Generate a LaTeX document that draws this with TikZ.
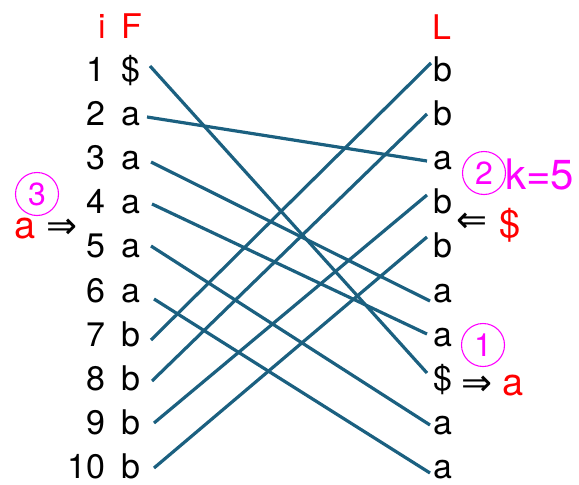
\documentclass[tikz,border=0pt]{standalone}
\usepackage{fontspec}
\setmainfont{TeX Gyre Heros}
\newfontfamily\symfont{DejaVu Sans}
\definecolor{linkcol}{RGB}{27,96,128}
\definecolor{annred}{RGB}{255,0,0}
\definecolor{annmag}{RGB}{255,0,255}
\begin{document}
\begin{tikzpicture}[x=1pt,y=-1pt,
  txt/.style={inner sep=0pt,font=\fontsize{34}{40}\selectfont},
  num/.style={txt,anchor=base east},
  lett/.style={txt,anchor=base west},
  hdr/.style={txt,text=annred},
  ann/.style={inner sep=0pt,font=\fontsize{38}{44}\selectfont},
  arr/.style={inner sep=0pt,font=\symfont\fontsize{37}{42}\selectfont},
  circnum/.style={circle,draw=annmag,line width=1.1pt,minimum size=43pt,inner sep=0pt,text=annmag,font=\fontsize{32}{34}\selectfont},
  link/.style={draw=linkcol,line width=3.2pt}]
\useasboundingbox (0,0) rectangle (579,485);
% headers
\node[hdr,anchor=base] (hi) at (102,38) {i};
\node[hdr,anchor=base west] (hF) at (121,38) {F};
\node[hdr,anchor=base west] (hL) at (432,39) {L};
% rows
\foreach \i/\f/\l [evaluate=\i as \yy using 81+(\i-1)*44.2] in
  {1/\$/b,2/a/b,3/a/a,4/a/b,5/a/b,6/a/a,7/b/a,8/b/\$,9/b/a,10/b/a}{
  \node[num] (n\i) at (106,\yy) {\i};
  \node[lett] (F\i) at (121,\yy) {\f};
  \node[lett] (L\i) at (433,\yy) {\l};
}
% connector end points
\coordinate (f1) at (150,66);
\coordinate (f2) at (147,117);
\coordinate (f3) at (151,162);
\coordinate (f4) at (152,204);
\coordinate (f5) at (151,246);
\coordinate (f6) at (154,299);
\coordinate (f7) at (151,340);
\coordinate (f8) at (152,381);
\coordinate (f9) at (154,423);
\coordinate (f10) at (154,468);
\coordinate (l1) at (431,63);
\coordinate (l2) at (427,114);
\coordinate (l3) at (427,161);
\coordinate (l4) at (427,195);
\coordinate (l5) at (427,237);
\coordinate (l6) at (430,301);
\coordinate (l7) at (427,334);
\coordinate (l8) at (427,373);
\coordinate (l9) at (430,425);
\coordinate (l10) at (430,473);
\draw[link] (f1) -- (l8);
\draw[link] (f2) -- (l3);
\draw[link] (f3) -- (l6);
\draw[link] (f4) -- (l7);
\draw[link] (f5) -- (l9);
\draw[link] (f6) -- (l10);
\draw[link] (f7) -- (l1);
\draw[link] (f8) -- (l2);
\draw[link] (f9) -- (l4);
\draw[link] (f10) -- (l5);
% annotation 3 (left)
\node[circnum] (c3) at (37,194) {3};
\node[ann,text=annred,anchor=base west] (a3) at (14,238) {a};
\node[arr,anchor=west] (r3) at (46,229) {⇒};
% annotation 2
\node[circnum] (c2) at (484,173) {2};
\node[ann,text=annmag,anchor=base west,font=\fontsize{42}{46}\selectfont] (k2) at (505,189) {k=5};
\node[arr,anchor=west] (r2) at (456,223) {⇐};
\node[ann,text=annred,anchor=base west] (d2) at (499,237) {\$};
% annotation 1
\node[circnum] (c1) at (483,345) {1};
\node[arr,anchor=west] (r1) at (461,386) {⇒};
\node[ann,text=annred,anchor=base west] (a1) at (502,395) {a};
\end{tikzpicture}
\end{document}
